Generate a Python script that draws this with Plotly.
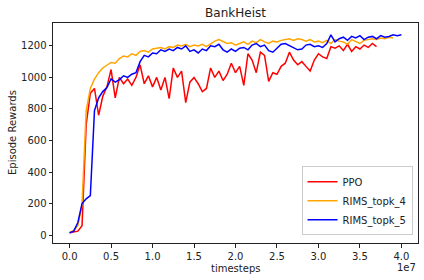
import numpy as np
import plotly.graph_objects as go

step = 5e5  # sampling interval in timesteps

ppo = [15, 20, 25, 60, 700, 900, 930, 760, 880, 940,
       1050, 870, 1000, 960, 990, 950, 1000, 1080, 960, 1010,
       940, 1000, 920, 1000, 865, 1060, 1000, 1040, 840, 970,
       1000, 960, 910, 930, 1060, 1000, 1040, 980, 1020, 1090,
       1030, 1070, 950, 1150, 1110, 1030, 1160, 1140, 975, 1030,
       1020, 1070, 1090, 1160, 1110, 1080, 1100, 1070, 1040, 1110,
       1150, 1130, 1120, 1195, 1185, 1200, 1170, 1210, 1165, 1195,
       1180, 1205, 1190, 1215, 1195]

rims_topk_4 = [15, 30, 60, 190, 790, 930, 990, 1030, 1060, 1080,
               1095, 1090, 1120, 1135, 1130, 1150, 1140, 1165, 1170, 1160,
               1180, 1185, 1190, 1180, 1195, 1190, 1205, 1200, 1210, 1195,
               1205, 1200, 1210, 1195, 1215, 1230, 1240, 1225, 1215, 1220,
               1205, 1215, 1225, 1210, 1230, 1220, 1240, 1225, 1215, 1230,
               1225, 1235, 1240, 1245, 1235, 1245, 1240, 1230, 1240, 1225,
               1230, 1220, 1235, 1215, 1240, 1230, 1225, 1210, 1240, 1230,
               1215, 1235, 1240, 1245, 1240, 1250, 1245, 1255, 1250]

rims_topk_5 = [15, 25, 80, 200, 230, 250, 790, 870, 910, 935,
               990, 970, 985, 1010, 1000, 1020, 1030, 1100, 1140, 1130,
               1155, 1150, 1175, 1165, 1180, 1170, 1190, 1180, 1200, 1165,
               1175, 1155, 1180, 1170, 1200, 1195, 1210, 1175, 1160, 1180,
               1165, 1185, 1190, 1175, 1205, 1215, 1195, 1205, 1170, 1160,
               1185, 1210, 1215, 1200, 1185, 1175, 1180, 1205, 1210, 1195,
               1200, 1190, 1215, 1270, 1225, 1245, 1255, 1235, 1260, 1250,
               1265, 1240, 1255, 1260, 1245, 1265, 1255, 1260, 1270, 1265,
               1270]

x_tickvals = [0, 5e6, 1e7, 1.5e7, 2e7, 2.5e7, 3e7, 3.5e7, 4e7]
x_ticktext = ["0.0", "0.5", "1.0", "1.5", "2.0", "2.5", "3.0", "3.5", "4.0"]
y_tickvals = [0, 200, 400, 600, 800, 1000, 1200]

series = [("PPO", ppo, "#ff0000"),
          ("RIMS_topk_4", rims_topk_4, "#ffa500"),
          ("RIMS_topk_5", rims_topk_5, "#0000ff")]

fig = go.Figure()
for name, vals, color in series:
    xs = np.arange(len(vals)) * step
    fig.add_trace(go.Scatter(x=xs, y=vals, mode="lines", name=name,
                             line=dict(color=color, width=1.5)))

font = "DejaVu Sans, Arial, sans-serif"
ink = "#222222"
fig.update_layout(
    width=424, height=280,
    margin=dict(l=53, r=6, t=23, b=37, autoexpand=False),
    paper_bgcolor="white", plot_bgcolor="white",
    font=dict(family=font, size=10, color=ink),
    title=dict(text="BankHeist", x=0.5, xanchor="center", xref="paper",
               y=1 - 12.5 / 280, yanchor="middle", font=dict(size=12, color=ink)),
    showlegend=True,
    legend=dict(x=0.985, y=0.035, xanchor="right", yanchor="bottom",
                bgcolor="rgba(255,255,255,0.8)", bordercolor="#cccccc", borderwidth=1,
                font=dict(size=10), tracegroupgap=0),
)
fig.update_xaxes(range=[-2e6, 4.2e7], tickvals=x_tickvals, ticktext=x_ticktext,
                 ticks="outside", ticklen=3.5, tickwidth=0.8, tickcolor=ink,
                 showline=True, linecolor=ink, linewidth=1, mirror=True,
                 showgrid=False, zeroline=False, automargin=False)
fig.update_yaxes(range=[-50, 1345], tickvals=y_tickvals,
                 ticks="outside", ticklen=3.5, tickwidth=0.8, tickcolor=ink,
                 showline=True, linecolor=ink, linewidth=1, mirror=True,
                 showgrid=False, zeroline=False, automargin=False)
fig.add_annotation(text="timesteps", xref="paper", yref="paper", x=0.5, y=-25.5 / 220,
                   xanchor="center", yanchor="middle", showarrow=False,
                   font=dict(size=10, color=ink))
fig.add_annotation(text="Episode Rewards", xref="paper", yref="paper", x=-41 / 365, y=0.5,
                   xanchor="center", yanchor="middle", textangle=-90, showarrow=False,
                   font=dict(size=10, color=ink))
fig.add_annotation(text="1e7", xref="paper", yref="paper", x=1.0, y=-24 / 220,
                   xanchor="right", yanchor="middle", showarrow=False,
                   font=dict(size=10, color=ink))
fig.write_html("out.html", config={"displayModeBar": False},
               post_script="document.body.style.margin='0';document.body.style.overflow='hidden';")
